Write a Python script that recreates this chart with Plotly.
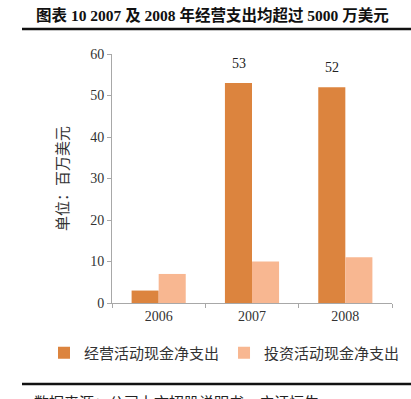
import plotly.graph_objects as go

categories = ["2006", "2007", "2008"]
operating = [3, 53, 52]
investing = [7, 10, 11]
labeled_points = [("2007", 53), ("2008", 52)]
y_ticks = [0, 10, 20, 30, 40, 50, 60]

serif = "Liberation Serif, DejaVu Serif, serif"
cjk = "Noto Sans CJK SC, Noto Sans, sans-serif"
mixed = "Liberation Serif, Noto Sans CJK SC, serif"

fig = go.Figure()
fig.add_trace(go.Bar(x=categories, y=operating, name="经营活动现金净支出",
                     marker=dict(color="#DC843E", line=dict(width=0))))
fig.add_trace(go.Bar(x=categories, y=investing, name="投资活动现金净支出",
                     marker=dict(color="#F8B791", line=dict(width=0))))

for cat, val in labeled_points:
    fig.add_annotation(x=categories.index(cat), y=val, text=str(val), showarrow=False,
                       xshift=-13.5, yshift=10, yanchor="bottom",
                       font=dict(family=serif, size=14, color="#222222"))

fig.update_layout(
    width=411, height=399,
    margin=dict(l=112, r=19, t=54, b=96, autoexpand=False),
    paper_bgcolor="white", plot_bgcolor="white",
    barmode="group", bargap=0.42, bargroupgap=0,
    showlegend=True,
    legend=dict(orientation="h", x=(44 - 112) / 280, xref="paper", xanchor="left",
                y=-(353 - 303) / 249, yref="paper", yanchor="middle",
                font=dict(family=cjk, size=15, color="#333333"),
                itemwidth=30, traceorder="normal"),
    xaxis=dict(type="category", range=[-0.5, 2.5], showline=True, linecolor="#A8A8A8",
               linewidth=1, ticks="outside", tickson="boundaries", ticklen=4,
               tickcolor="#A8A8A8",
               tickfont=dict(family=serif, size=14, color="#333333"), showgrid=False),
    yaxis=dict(range=[0, 60], tickvals=y_ticks, showline=True, linecolor="#A8A8A8",
               linewidth=1, ticks="outside", ticklen=4, tickcolor="#A8A8A8",
               tickfont=dict(family=serif, size=14, color="#333333"), showgrid=False,
               zeroline=False,
               title=dict(text="单位：百万美元", standoff=17,
                          font=dict(family=cjk, size=15, color="#333333"))),
)

fig.add_annotation(text="<b>图表 10 2007 及 2008 年经营支出均超过 5000 万美元</b>",
                   xref="paper", yref="paper", x=(212 - 112) / 280, y=1 + 39 / 249,
                   xanchor="center", yanchor="middle", showarrow=False,
                   font=dict(family=mixed, size=15.5, color="#111111"))
fig.add_shape(type="line", xref="paper", yref="paper", x0=-90 / 280, x1=1 + 19 / 280,
              y0=1 + 25 / 249, y1=1 + 25 / 249, line=dict(color="#111111", width=2.5))
fig.add_shape(type="line", xref="paper", yref="paper", x0=-90 / 280, x1=1 + 19 / 280,
              y0=-81 / 249, y1=-81 / 249, line=dict(color="#111111", width=2.5))
fig.add_annotation(text="数据来源：公司上市招股说明书，广证恒生",
                   xref="paper", yref="paper", x=-80 / 280, y=-98 / 249,
                   xanchor="left", yanchor="middle", showarrow=False,
                   font=dict(family=cjk, size=15, color="#222222"))

fig.write_html("out.html", config={"displayModeBar": False},
               post_script="document.body.style.margin='0';document.body.style.overflow='hidden';")
